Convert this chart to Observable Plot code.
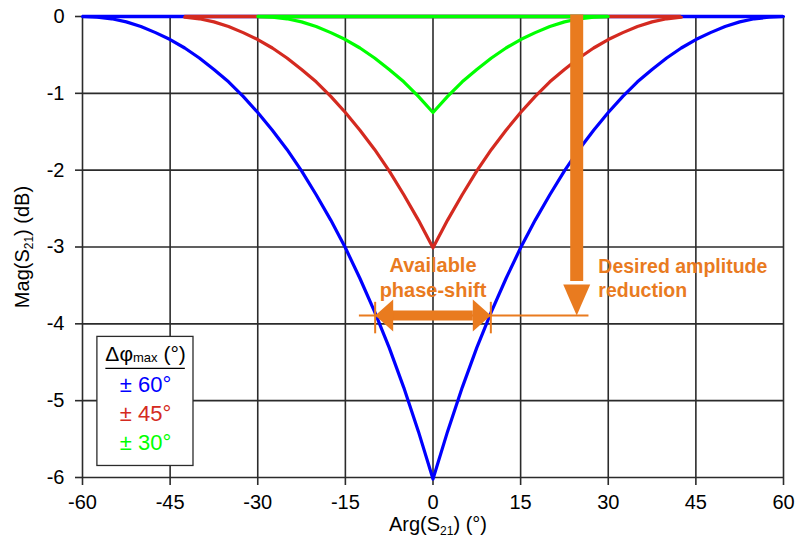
<!DOCTYPE html>
<html><head><meta charset="utf-8">
<script src="https://cdn.jsdelivr.net/npm/d3@7"></script>
<script src="https://cdn.jsdelivr.net/npm/@observablehq/plot@0.6"></script>
<style>body{margin:0;background:#fff}</style>
</head><body><div id="chart"></div>
<script>
// ---- data ----
const xTicks = [-60, -45, -30, -15, 0, 15, 30, 45, 60];
const yTicks = [0, -1, -2, -3, -4, -5, -6];

const argBlue = [-60,-57.5,-55,-52.5,-50,-47.5,-45,-42.5,-40,-37.5,-35,-32.5,-30,-27.5,-25,-22.5,-20,-17.5,-15,-12.5,-10,-7.5,-5,-2.5,0,
  2.5,5,7.5,10,12.5,15,17.5,20,22.5,25,27.5,30,32.5,35,37.5,40,42.5,45,47.5,50,52.5,55,57.5,60];
const magBlue = [0,-0.01,-0.03,-0.07,-0.13,-0.21,-0.30,-0.41,-0.54,-0.69,-0.85,-1.04,-1.25,-1.48,-1.73,-2.01,-2.32,-2.65,-3.01,-3.41,-3.84,-4.31,-4.83,-5.40,-6.02,
  -5.40,-4.83,-4.31,-3.84,-3.41,-3.01,-2.65,-2.32,-2.01,-1.73,-1.48,-1.25,-1.04,-0.85,-0.69,-0.54,-0.41,-0.30,-0.21,-0.13,-0.07,-0.03,-0.01,0];

const argRed = [-42.5,-40,-37.5,-35,-32.5,-30,-27.5,-25,-22.5,-20,-17.5,-15,-12.5,-10,-7.5,-5,-2.5,0,
  2.5,5,7.5,10,12.5,15,17.5,20,22.5,25,27.5,30,32.5,35,37.5,40,42.5];
const magRed = [-0.01,-0.03,-0.07,-0.13,-0.21,-0.30,-0.41,-0.54,-0.69,-0.85,-1.04,-1.25,-1.48,-1.73,-2.01,-2.32,-2.65,-3.01,
  -2.65,-2.32,-2.01,-1.73,-1.48,-1.25,-1.04,-0.85,-0.69,-0.54,-0.41,-0.30,-0.21,-0.13,-0.07,-0.03,-0.01];

const argGreen = [-30,-27.5,-25,-22.5,-20,-17.5,-15,-12.5,-10,-7.5,-5,-2.5,0,
  2.5,5,7.5,10,12.5,15,17.5,20,22.5,25,27.5,30];
const magGreen = [0,-0.01,-0.03,-0.07,-0.13,-0.21,-0.30,-0.41,-0.54,-0.69,-0.85,-1.04,-1.25,
  -1.04,-0.85,-0.69,-0.54,-0.41,-0.30,-0.21,-0.13,-0.07,-0.03,-0.01,0];

// flat 0 dB segment of each series: [from, to]
const flatBlue = [-60, 60];
const flatRed = [-42.5, 42.5];
const flatGreen = [-30, 30];

const seriesLabels = ["± 60°", "± 45°", "± 30°"];
const legendTitle = "Δφmax (°)";
const xTitle = "Arg(S21) (°)";
const yTitle = "Mag(S21) (dB)";
const noteLeft = "Available\nphase-shift";
const noteRight = "Desired amplitude\nreduction";

// annotation geometry (data units)
const levelDb = -3.89;          // amplitude level of the horizontal marker
const shiftHalf = 9.9;          // available phase shift (±)
const arrowArg = 24.6;          // position of the vertical arrow
const markerSpan = [-12.6, 26.7];

// ---- styles ----
const BLUE = "#0000FF", RED = "#D42A20", GREEN = "#00FF00", ORANGE = "#E97B1F";
const seriesColors = [BLUE, RED, GREEN];
const GRID = "#2b2b2b";

const rows = (xs, ys) => xs.map((x, i) => ({x, y: ys[i]}));

const headV = {draw(ctx) { ctx.moveTo(0, 0); ctx.lineTo(-13.5, -31); ctx.lineTo(13.5, -31); ctx.closePath(); }};
const headH = {draw(ctx) { ctx.moveTo(0, 0); ctx.lineTo(-16, -18); ctx.lineTo(16, -18); ctx.closePath(); }};

const legendRows = seriesLabels.map((t, i) => ({t, c: seriesColors[i], y: [-4.79, -5.17, -5.55][i]}));

const chart = Plot.plot({
  width: 796, height: 542,
  marginLeft: 82, marginRight: 13, marginTop: 16, marginBottom: 65,
  x: {domain: [-60, 60]},
  y: {domain: [-6, 0]},
  style: {fontFamily: "'Liberation Sans', Arial, sans-serif", fontSize: "20px", color: "#000", background: "#fff", overflow: "visible"},
  marks: [
    Plot.ruleX(xTicks, {stroke: GRID, strokeWidth: 1.6}),
    Plot.ruleY(yTicks, {stroke: GRID, strokeWidth: 1.6}),
    Plot.axisX({ticks: xTicks, tickSize: 8, tickPadding: 9, tickFormat: d => String(d), label: null, fontSize: 20, strokeWidth: 1.6, stroke: GRID}),
    Plot.axisY({ticks: yTicks, tickSize: 7, tickPadding: 11, tickFormat: d => String(d), label: null, fontSize: 20, strokeWidth: 1.6, stroke: GRID}),
    Plot.text([xTitle], {frameAnchor: "bottom", textAnchor: "middle", lineAnchor: "middle", dy: 47, dx: 5, fontSize: 20}),
    Plot.text([yTitle], {frameAnchor: "left", textAnchor: "middle", lineAnchor: "middle", dx: -60, rotate: -90, fontSize: 20}),

    Plot.ruleY([0], {x1: flatBlue[0], x2: flatBlue[1], stroke: BLUE, strokeWidth: 3.5}),
    Plot.line(rows(argBlue, magBlue), {x: "x", y: "y", stroke: BLUE, strokeWidth: 3.2}),
    Plot.ruleY([0], {x1: flatRed[0], x2: flatRed[1], stroke: RED, strokeWidth: 3.5}),
    Plot.line(rows(argRed, magRed), {x: "x", y: "y", stroke: RED, strokeWidth: 3.2}),
    Plot.ruleY([0], {x1: flatGreen[0], x2: flatGreen[1], stroke: GREEN, strokeWidth: 3.5}),
    Plot.line(rows(argGreen, magGreen), {x: "x", y: "y", stroke: GREEN, strokeWidth: 3.2}),

    // annotations
    Plot.ruleY([levelDb], {x1: markerSpan[0], x2: markerSpan[1], stroke: ORANGE, strokeWidth: 2}),
    Plot.ruleX([-shiftHalf, shiftHalf], {y1: -3.72, y2: -4.13, stroke: ORANGE, strokeWidth: 2}),
    Plot.ruleY([levelDb], {x1: -shiftHalf + 3, x2: shiftHalf - 3, stroke: ORANGE, strokeWidth: 10}),
    Plot.dot([{x: -shiftHalf, y: levelDb}], {x: "x", y: "y", symbol: headH, rotate: 90, fill: ORANGE, stroke: "none"}),
    Plot.dot([{x: shiftHalf, y: levelDb}], {x: "x", y: "y", symbol: headH, rotate: -90, fill: ORANGE, stroke: "none"}),
    Plot.ruleX([arrowArg], {y1: 0.02, y2: -3.45, stroke: ORANGE, strokeWidth: 13}),
    Plot.dot([{x: arrowArg, y: levelDb}], {x: "x", y: "y", symbol: headV, fill: ORANGE, stroke: "none"}),
    Plot.text([noteLeft], {x: 0, y: -3.38, textAnchor: "middle", fill: ORANGE, fontWeight: "bold", fontSize: 20, lineHeight: 1.25}),
    Plot.text([noteRight], {x: 28.3, y: -3.40, textAnchor: "start", fill: ORANGE, fontWeight: "bold", fontSize: 19.5, lineHeight: 1.22}),

    // legend box
    Plot.rect([{}], {x1: -57.45, x2: -41.0, y1: -4.17, y2: -5.85, fill: "#fff", stroke: GRID, strokeWidth: 1.3}),
    Plot.text([legendTitle], {x: -49.2, y: -4.39, fontSize: 21, textAnchor: "middle"}),
    Plot.ruleY([-4.58], {x1: -56.0, x2: -42.4, stroke: "#000", strokeWidth: 1.3}),
    Plot.text(legendRows, {x: -49.2, y: "y", text: "t", fill: "c", fontSize: 22, textAnchor: "middle"})
  ]
});

function rich(svg, content, parts) {
  d3.select(svg).selectAll("text").filter(function() { return this.textContent === content; }).each(function() {
    const t = d3.select(this);
    t.text(null);
    for (const p of parts) {
      const s = t.append("tspan").text(p.t);
      if (p.size) s.attr("font-size", p.size);
      if (p.dy) s.attr("dy", p.dy);
    }
  });
}
rich(chart, xTitle, [{t: "Arg(S"}, {t: "21", size: 12, dy: 4}, {t: ") (°)", dy: -4}]);
rich(chart, yTitle, [{t: "Mag(S"}, {t: "21", size: 12, dy: 4}, {t: ") (dB)", dy: -4}]);
rich(chart, legendTitle, [{t: "Δφ"}, {t: "max", size: 13, dy: 1}, {t: " (°)", dy: -1}]);

document.getElementById("chart").appendChild(chart);
</script>
</body></html>
